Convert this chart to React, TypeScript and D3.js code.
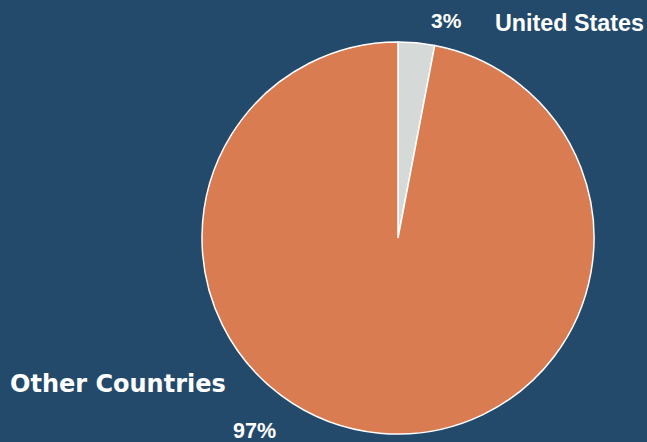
import React from "react";
import * as d3 from "d3";

const categories = ["United States", "Other Countries"];
const values = [3, 97];
const percentLabels = ["3%", "97%"];
const colors = ["#d5dad8", "#d97c52"];

export default function App() {
  const W = 647, H = 442;
  const cx = 398, cy = 238, r = 196;
  const pie = d3.pie<number>().sort(null).value((d) => d)(values);
  const arc = d3.arc<d3.PieArcDatum<number>>().innerRadius(0).outerRadius(r);
  return (
    <svg width={W} height={H} style={{ position: "absolute", left: 0, top: 0, display: "block" }}>
      <rect width={W} height={H} fill="#234a6b" />
      <g transform={`translate(${cx},${cy})`}>
        {pie.map((p, i) => (
          <path key={i} d={arc(p) || ""} fill={colors[i]} stroke="#ffffff" strokeWidth={1.5} />
        ))}
      </g>
      <text x={431} y={28} fill="#ffffff" fontFamily="Liberation Sans, Arial, sans-serif" fontWeight="bold" fontSize={21}>{percentLabels[0]}</text>
      <text x={495} y={31} fill="#ffffff" fontFamily="Liberation Sans, Arial, sans-serif" fontWeight="bold" fontSize={23.3}>{categories[0]}</text>
      <text x={10} y={392} fill="#ffffff" fontFamily="DejaVu Sans, Verdana, sans-serif" fontWeight="bold" fontSize={24}>{categories[1]}</text>
      <text x={233} y={438} fill="#ffffff" fontFamily="Liberation Sans, Arial, sans-serif" fontWeight="bold" fontSize={21.5}>{percentLabels[1]}</text>
    </svg>
  );
}
